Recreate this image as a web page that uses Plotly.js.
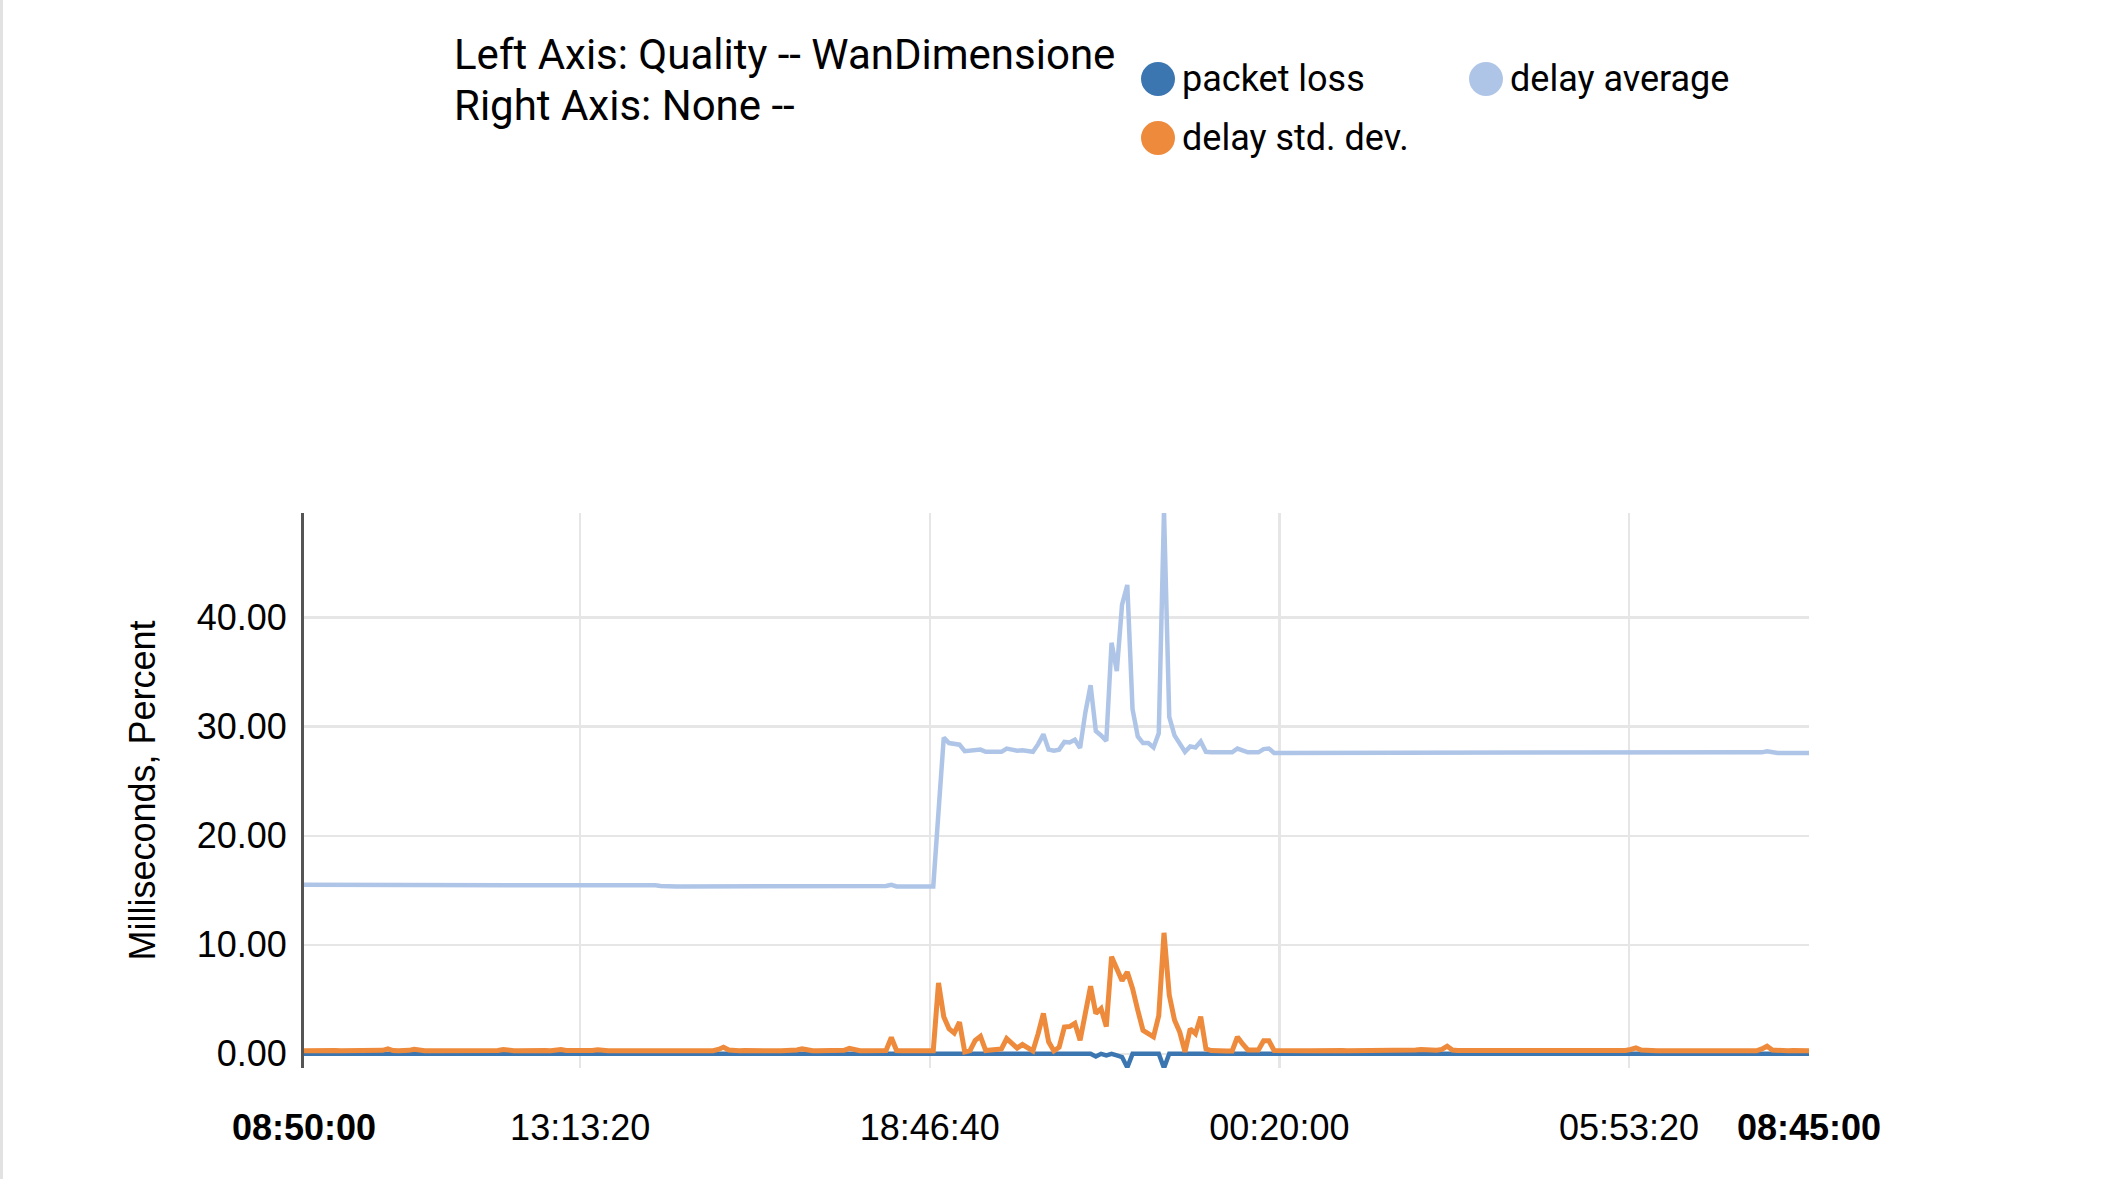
<!DOCTYPE html>
<html>
<head>
<meta charset="utf-8">
<script src="https://cdn.plot.ly/plotly-3.0.1.min.js"></script>
<style>
  html, body { margin: 0; padding: 0; background: #ffffff; }
  #chart { width: 2103px; height: 1179px; }
</style>
</head>
<body>
<div id="chart"></div>
<script>
// ---------------- DATA ----------------
// samples every 5 minutes, from 08:50:00 to 08:45:00 next day (288 samples)
const START_UTC = Date.UTC(2024, 0, 1, 8, 50, 0);
const STEP_MS = 5 * 60 * 1000;
const RANGE_START = '2024-01-01 08:50:00';
const RANGE_END = '2024-01-02 08:45:00';

const seriesNames = ['packet loss', 'delay average', 'delay std. dev.'];
const seriesColors = ['#3b76b1', '#afc5e7', '#ee8a3b'];

const packetLoss = [
  0,0,0,0,0,0,0,0,0,0,
  0,0,0,0,0,0,0,0,0,0,
  0,0,0,0,0,0,0,0,0,0,
  0,0,0,0,0,0,0,0,0,0,
  0,0,0,0,0,0,0,0,0,0,
  0,0,0,0,0,0,0,0,0,0,
  0,0,0,0,0,0,0,0,0,0,
  0,0,0,0,0,0,0,0,0,0,
  0,0,0,0,0,0,0,0,0,0,
  0,0,0,0,0,0,0,0,0,0,
  0,0,0,0,0,0,0,0,0,0,
  0,0,0,0,0,0,0,0,0,0,
  0,0,0,0,0,0,0,0,0,0,
  0,0,0,0,0,0,0,0,0,0,
  0,0,0,0,0,0,0,0,0,0,
  0,-0.25,0,-0.15,0,-0.15,-0.3,-1.25,0,0,
  0,0,0,0,-1.3,0,0,0,0,0,
  0,0,0,0,0,0,0,0,0,0,
  0,0,0,0,0,0,0,0,0,0,
  0,0,0,0,0,0,0,0,0,0,
  0,0,0,0,0,0,0,0,0,0,
  0,0,0,0,0,0,0,0,0,0,
  0,0,0,0,0,0,0,0,0,0,
  0,0,0,0,0,0,0,0,0,0,
  0,0,0,0,0,0,0,0,0,0,
  0,0,0,0,0,0,0,0,0,0,
  0,0,0,0,0,0,0,0,0,0,
  0,0,0,0,0,0,0,0,0,0,
  0,0,0,0,0,0,0,0
];

const delayAverage = [
  15.5,15.5,15.5,15.5,15.5,15.5,15.5,15.5,15.5,15.5,
  15.45,15.5,15.5,15.5,15.5,15.5,15.55,15.5,15.5,15.5,
  15.5,15.55,15.5,15.5,15.5,15.5,15.5,15.5,15.45,15.5,
  15.5,15.5,15.5,15.5,15.5,15.5,15.5,15.5,15.55,15.5,
  15.5,15.5,15.5,15.5,15.5,15.5,15.5,15.5,15.5,15.55,
  15.5,15.5,15.5,15.5,15.5,15.5,15.55,15.5,15.5,15.5,
  15.5,15.5,15.5,15.5,15.5,15.5,15.5,15.45,15.4,15.35,
  15.35,15.35,15.35,15.35,15.35,15.35,15.35,15.35,15.35,15.35,
  15.4,15.35,15.35,15.35,15.35,15.35,15.35,15.35,15.35,15.35,
  15.35,15.35,15.35,15.35,15.35,15.4,15.35,15.35,15.35,15.35,
  15.35,15.35,15.35,15.35,15.4,15.35,15.35,15.35,15.35,15.35,
  15.35,15.4,15.5,15.35,15.35,15.35,15.35,15.35,15.35,15.35,
  15.35,22.2,29.0,28.5,28.4,28.35,27.75,27.8,27.95,27.9,
  27.7,27.75,27.7,27.7,28.0,27.9,27.8,27.85,27.8,27.7,
  28.4,29.3,27.9,27.8,27.9,28.6,28.55,28.8,28.05,31.3,
  33.8,29.6,29.2,28.7,37.7,35.1,41.2,43.0,31.6,29.1,
  28.5,28.5,28.1,29.4,49.8,30.9,29.2,28.35,27.7,28.2,
  28.1,28.65,27.7,27.65,27.65,27.65,27.65,27.65,28.0,27.8,
  27.65,27.65,27.65,27.95,28.0,27.6,27.6,27.6,27.6,27.6,
  27.6,27.6,27.6,27.6,27.6,27.6,27.6,27.6,27.6,27.6,
  27.6,27.6,27.6,27.6,27.6,27.6,27.6,27.6,27.6,27.6,
  27.6,27.6,27.65,27.65,27.65,27.6,27.6,27.6,27.65,27.6,
  27.6,27.6,27.6,27.6,27.6,27.6,27.6,27.6,27.6,27.6,
  27.6,27.6,27.6,27.6,27.6,27.6,27.6,27.6,27.6,27.6,
  27.6,27.6,27.6,27.6,27.6,27.6,27.6,27.6,27.6,27.6,
  27.6,27.6,27.6,27.6,27.65,27.6,27.6,27.6,27.6,27.6,
  27.6,27.6,27.6,27.6,27.6,27.6,27.6,27.6,27.6,27.6,
  27.6,27.6,27.6,27.6,27.6,27.6,27.6,27.6,27.65,27.75,
  27.65,27.6,27.6,27.6,27.6,27.6,27.6,27.6
];

const delayStdDev = [
  0.28,0.3,0.28,0.3,0.28,0.28,0.3,0.28,0.28,0.3,
  0.28,0.28,0.3,0.28,0.28,0.32,0.45,0.3,0.28,0.28,
  0.32,0.42,0.3,0.28,0.28,0.28,0.3,0.28,0.28,0.28,
  0.3,0.28,0.28,0.28,0.3,0.28,0.28,0.3,0.4,0.3,
  0.28,0.28,0.3,0.28,0.28,0.28,0.3,0.28,0.3,0.4,
  0.3,0.28,0.28,0.28,0.3,0.3,0.38,0.3,0.28,0.28,
  0.28,0.3,0.28,0.28,0.28,0.3,0.28,0.28,0.28,0.3,
  0.28,0.28,0.3,0.28,0.28,0.28,0.28,0.3,0.28,0.4,
  0.6,0.35,0.28,0.28,0.3,0.28,0.28,0.28,0.3,0.28,
  0.28,0.28,0.3,0.28,0.35,0.45,0.32,0.28,0.28,0.28,
  0.28,0.3,0.28,0.32,0.5,0.35,0.28,0.28,0.3,0.28,
  0.28,0.3,1.5,0.3,0.28,0.3,0.32,0.28,0.3,0.28,
  0.28,6.5,3.4,2.3,1.9,2.9,0.17,0.3,1.24,1.6,
  0.3,0.35,0.45,0.45,1.4,1.0,0.53,0.85,0.53,0.26,
  1.85,3.7,1.1,0.26,0.6,2.46,2.5,2.8,1.24,4.0,
  6.2,3.7,4.15,2.5,8.9,7.8,6.7,7.5,6.0,4.0,
  2.15,1.85,1.55,3.5,11.1,5.4,3.1,2.0,0.17,2.3,
  1.85,3.4,0.45,0.3,0.26,0.26,0.26,0.26,1.55,0.9,
  0.35,0.35,0.35,1.2,1.2,0.3,0.28,0.28,0.28,0.3,
  0.28,0.28,0.28,0.3,0.28,0.28,0.28,0.28,0.3,0.28,
  0.28,0.28,0.3,0.28,0.28,0.28,0.3,0.28,0.28,0.28,
  0.3,0.32,0.35,0.4,0.42,0.35,0.32,0.4,0.7,0.35,
  0.3,0.3,0.28,0.3,0.28,0.3,0.28,0.28,0.3,0.28,
  0.28,0.3,0.28,0.28,0.28,0.3,0.28,0.28,0.28,0.3,
  0.28,0.28,0.3,0.28,0.28,0.28,0.3,0.28,0.28,0.28,
  0.3,0.28,0.3,0.4,0.55,0.35,0.28,0.3,0.28,0.28,
  0.28,0.3,0.28,0.28,0.3,0.28,0.28,0.28,0.3,0.28,
  0.28,0.28,0.3,0.28,0.28,0.3,0.28,0.28,0.45,0.7,
  0.35,0.3,0.28,0.28,0.3,0.28,0.28,0.28
];

const titleLines = ['Left Axis: Quality -- WanDimensione', 'Right Axis: None --'];
const yAxisTitle = 'Milliseconds, Percent';
const endLabels = ['08:50:00', '08:45:00'];

// ---------------- BUILD ----------------
function fmt(ms) {
  return new Date(ms).toISOString().slice(0, 19).replace('T', ' ');
}
const times = delayAverage.map((_, i) => fmt(START_UTC + i * STEP_MS));

const seriesValues = [packetLoss, delayAverage, delayStdDev];
const lineWidths = [4.5, 4.5, 5];

const traces = seriesValues.map((vals, k) => ({
  type: 'scatter',
  mode: 'lines',
  name: seriesNames[k],
  x: times,
  y: vals,
  line: { color: seriesColors[k], width: lineWidths[k], shape: 'linear' },
  showlegend: false,
  hoverinfo: 'skip'
}));

const W = 2103, H = 1179;
const M = { l: 304, r: 294, t: 513, b: 111 };
const PW = W - M.l - M.r, PH = H - M.t - M.b;
const px2x = px => (px - M.l) / PW;
const py2y = py => (H - M.b - py) / PH;

const axisFont = { family: 'Liberation Sans, Arial, sans-serif', size: 36, color: '#000000' };
const textFont = { family: 'Roboto, Liberation Sans, sans-serif', size: 36, color: '#000000' };
const titleFont = { family: 'Roboto, Liberation Sans, sans-serif', size: 42, color: '#000000' };

// legend entries: [circle centre x, circle centre y] in pixels
const legendPos = [[1158, 79], [1486, 79], [1158, 138]];
const shapes = [];
const annotations = [];
legendPos.forEach((p, k) => {
  shapes.push({
    type: 'circle', xref: 'paper', yref: 'paper',
    xsizemode: 'pixel', ysizemode: 'pixel',
    xanchor: px2x(p[0]), yanchor: py2y(p[1]),
    x0: -17, x1: 17, y0: -17, y1: 17,
    fillcolor: seriesColors[k], line: { width: 0 }
  });
  annotations.push({
    xref: 'paper', yref: 'paper',
    x: px2x(p[0] + 22), y: py2y(p[1]),
    xanchor: 'left', yanchor: 'middle',
    text: seriesNames[k], showarrow: false,
    font: textFont
  });
});

// two-line heading at the top left
const titleCentres = [54, 105];
titleLines.forEach((t, k) => {
  annotations.push({
    xref: 'paper', yref: 'paper',
    x: px2x(452), y: py2y(titleCentres[k]),
    xanchor: 'left', yanchor: 'middle',
    text: t, showarrow: false,
    font: titleFont
  });
});

// bold end-of-range labels
[RANGE_START, RANGE_END].forEach((t, k) => {
  annotations.push({
    xref: 'x', yref: 'paper', x: t, y: py2y(1127),
    xanchor: 'center', yanchor: 'middle',
    text: '<b>' + endLabels[k] + '</b>', showarrow: false,
    font: axisFont
  });
});

// faint frame line at the far left of the picture
shapes.push({
  type: 'line', xref: 'paper', yref: 'paper',
  x0: px2x(1.5), x1: px2x(1.5), y0: py2y(H), y1: py2y(0),
  line: { color: '#e2e2e2', width: 3 }
});

const layout = {
  width: W, height: H,
  margin: M,
  paper_bgcolor: '#ffffff',
  plot_bgcolor: '#ffffff',
  showlegend: false,
  xaxis: {
    type: 'date',
    range: [RANGE_START, RANGE_END],
    tickmode: 'linear',
    tick0: '2024-01-01 13:13:20',
    dtick: 20000000,
    tickformat: '%H:%M:%S',
    tickfont: axisFont,
    ticks: '',
    ticklabelstandoff: 35,
    showgrid: true,
    gridcolor: '#e6e6e6',
    gridwidth: 2.5,
    showline: false,
    zeroline: false,
    fixedrange: true
  },
  yaxis: {
    range: [-1.3, 49.6],
    tickmode: 'linear',
    tick0: 0,
    dtick: 10,
    tickformat: '.2f',
    tickfont: axisFont,
    ticks: '',
    ticklabelstandoff: 7,
    showgrid: true,
    gridcolor: '#e6e6e6',
    gridwidth: 2.5,
    showline: true,
    linecolor: '#555555',
    linewidth: 3,
    zeroline: false,
    fixedrange: true,
    title: {
      text: yAxisTitle,
      font: axisFont,
      standoff: 31
    }
  },
  shapes: shapes,
  annotations: annotations
};

Plotly.newPlot('chart', traces, layout, { displayModeBar: false, staticPlot: true });
</script>
</body>
</html>
